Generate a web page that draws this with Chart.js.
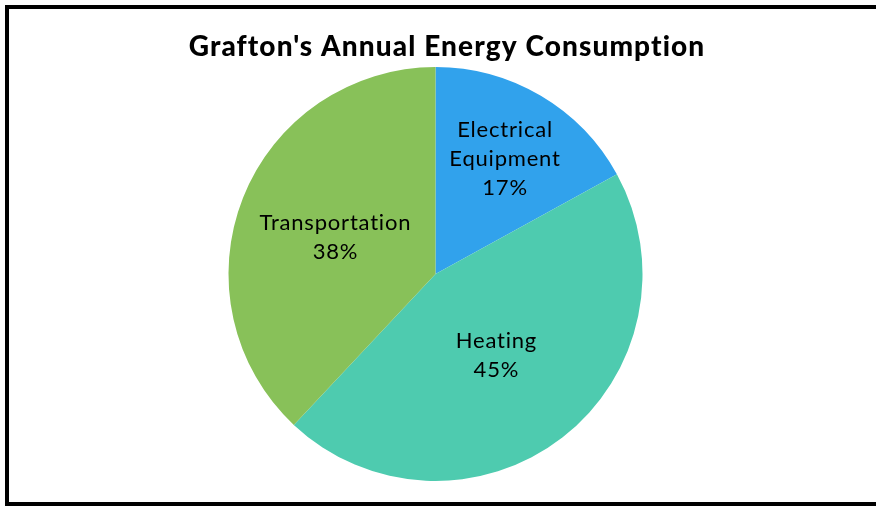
<!DOCTYPE html>
<html><head><meta charset="utf-8">
<script src="https://cdn.jsdelivr.net/npm/chart.js@4/dist/chart.umd.min.js"></script>
<style>
html,body{margin:0;padding:0;background:#fff;width:876px;height:506px;overflow:hidden;position:relative}
#frame{position:absolute;left:5px;top:5px;width:900px;height:493px;border:4px solid #000;box-sizing:content-box}
#c{position:absolute;left:0;top:0}
</style></head><body>
<div id="frame"></div>
<canvas id="c" width="876" height="506"></canvas>
<script>
const categories = ['Electrical Equipment', 'Heating', 'Transportation'];
const labelLines = [['Electrical', 'Equipment'], ['Heating'], ['Transportation']];
const values = [17, 45, 38];
const colors = ['#31A2EC', '#4ECBAF', '#88C159'];
const labelRadius = [0.66, 0.48, 0.52];
const titleText = "Grafton's Annual Energy Consumption";

const titlePlugin = {
  id: 'titleText',
  afterDraw(chart) {
    const ctx = chart.ctx;
    ctx.save();
    ctx.font = '900 28px Lato';
    ctx.letterSpacing = '1.1px';
    ctx.fillStyle = '#000';
    ctx.textAlign = 'center';
    ctx.textBaseline = 'alphabetic';
    ctx.fillText(titleText, 447, 56);
    ctx.restore();
  }
};

const labelPlugin = {
  id: 'sliceLabels',
  afterDatasetsDraw(chart) {
    const ctx = chart.ctx;
    const meta = chart.getDatasetMeta(0);
    const data = chart.data.datasets[0].data;
    const total = data.reduce((a, b) => a + b, 0);
    ctx.save();
    ctx.font = '22px Lato';
    ctx.letterSpacing = '0.8px';
    ctx.fillStyle = '#000';
    ctx.textAlign = 'center';
    ctx.textBaseline = 'middle';
    meta.data.forEach((arc, i) => {
      const p = arc.getProps(['x', 'y', 'startAngle', 'endAngle', 'outerRadius'], true);
      const mid = (p.startAngle + p.endAngle) / 2;
      const r = p.outerRadius * labelRadius[i];
      const cx = p.x + Math.cos(mid) * r;
      const cy = p.y + Math.sin(mid) * r + 3;
      const lines = labelLines[i].concat([Math.round(data[i] / total * 100) + '%']);
      const lh = 29;
      const y0 = cy - (lines.length - 1) * lh / 2;
      lines.forEach((t, k) => ctx.fillText(t, cx, y0 + k * lh));
    });
    ctx.restore();
  }
};

new Chart(document.getElementById('c'), {
  type: 'pie',
  data: {
    labels: categories,
    datasets: [{
      data: values,
      backgroundColor: colors,
      borderWidth: 0,
      hoverOffset: 0
    }]
  },
  options: {
    responsive: false,
    animation: false,
    events: [],
    layout: { padding: { top: 67, bottom: 25, left: 0, right: 5 } },
    plugins: { legend: { display: false }, tooltip: { enabled: false }, title: { display: false } }
  },
  plugins: [titlePlugin, labelPlugin]
});
</script>
</body></html>
